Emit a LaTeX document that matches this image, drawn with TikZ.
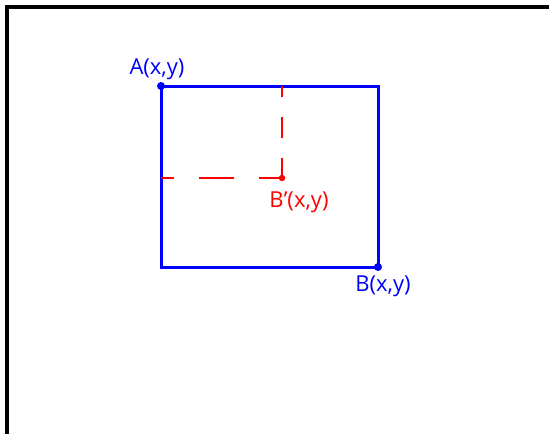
\documentclass[tikz,border=0pt]{standalone}
\usepackage{fontspec}
\setmainfont{Open Sans}
\usetikzlibrary{positioning}

\begin{document}
\begin{tikzpicture}[
    x=1pt, y=-1pt,
    % Styles
    frame/.style={
        draw=black,
        line width=3.2pt
    },
    box/.style={
        draw=blue,
        line width=3pt
    },
    guide/.style={
        draw=red,
        line width=2.6pt
    },
    corner/.style={
        circle,
        fill=blue,
        inner sep=0pt,
        minimum size=8pt
    },
    inner corner/.style={
        circle,
        fill=red,
        inner sep=0pt,
        minimum size=6.5pt
    },
    blue label/.style={
        font=\fontsize{22}{26}\selectfont,
        text=blue,
        inner sep=1pt
    },
    red label/.style={
        font=\fontsize{22}{26}\selectfont,
        text=red,
        inner sep=1pt
    }
]
\useasboundingbox (0,0) rectangle (549,434);

% --- Outer frame (top and left edges) ---
\draw[frame] (549,7) -- (7,7) -- (7,434);

% --- Corner points ---
\node[corner] (A) at (161,86) {};
\node[corner] (B) at (378,267) {};
\node[inner corner] (Bp) at (282,178) {};
\coordinate (AB) at (378,86);
\coordinate (BA) at (161,267);
\coordinate (Bpx) at (161,178);
\coordinate (Bpy) at (282,86);

% --- Rectangle ---
\draw[box] (A.center) -- (AB) -- (B.center) -- (BA) -- cycle;

% --- Dashed guides to B' ---
\draw[guide, dash pattern=on 35pt off 25pt, dash phase=22pt] (Bpx) -- (Bp.center);
\draw[guide, dash pattern=on 21pt off 20pt, dash phase=10pt] (Bpy) -- (Bp.center);

% --- Labels ---
\node[blue label, above=1pt of A, xshift=-4pt] (Alabel) {A(x,y)};
\node[blue label, below=3pt of B, xshift=5pt] (Blabel) {B(x,y)};
\node[red label, below=9pt of Bp, xshift=17pt] (Bplabel) {B\char"2019(x,y)};

\end{tikzpicture}
\end{document}
